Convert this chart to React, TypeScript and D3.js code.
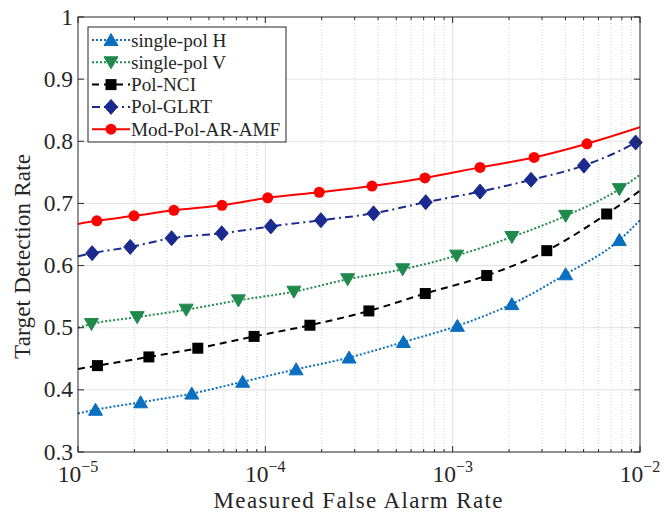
import * as d3 from "d3";

// measured false alarm rate (marker positions) and detection rate per detector
const hPfa = [1.24e-5, 2.16e-5, 4.05e-5, 7.57e-5, 1.46e-4, 2.8e-4, 5.46e-4, 1.06e-3, 2.07e-3, 4.01e-3, 7.76e-3];
const hPd = [0.368, 0.38, 0.394, 0.413, 0.433, 0.452, 0.477, 0.503, 0.538, 0.586, 0.641];
const hEnds = [0.362, 0.673];

const vPfa = [1.18e-5, 2.07e-5, 3.78e-5, 7.18e-5, 1.42e-4, 2.75e-4, 5.41e-4, 1.05e-3, 2.07e-3, 4.01e-3, 7.76e-3];
const vPd = [0.506, 0.517, 0.529, 0.544, 0.558, 0.578, 0.594, 0.616, 0.646, 0.68, 0.723];
const vEnds = [0.5, 0.746];

const nciPfa = [1.27e-5, 2.39e-5, 4.36e-5, 8.71e-5, 1.73e-4, 3.57e-4, 7.14e-4, 1.52e-3, 3.18e-3, 6.64e-3];
const nciPd = [0.439, 0.453, 0.467, 0.486, 0.504, 0.527, 0.555, 0.584, 0.624, 0.683];
const nciEnds = [0.4335, 0.7205];

const glrtPfa = [1.19e-5, 1.9e-5, 3.16e-5, 5.85e-5, 1.07e-4, 1.98e-4, 3.78e-4, 7.18e-4, 1.4e-3, 2.62e-3, 5.02e-3, 9.48e-3];
const glrtPd = [0.62, 0.63, 0.644, 0.652, 0.663, 0.673, 0.684, 0.702, 0.719, 0.738, 0.761, 0.798];
const glrtEnds = [0.615, 0.802];

const amfPfa = [1.26e-5, 1.99e-5, 3.25e-5, 5.87e-5, 1.03e-4, 1.94e-4, 3.71e-4, 7.11e-4, 1.4e-3, 2.72e-3, 5.21e-3];
const amfPd = [0.672, 0.68, 0.689, 0.697, 0.709, 0.718, 0.728, 0.741, 0.758, 0.774, 0.796];
const amfEnds = [0.667, 0.8225];

const xTicks = [1e-5, 1e-4, 1e-3, 1e-2];
const xTickExp = ["\u22125", "\u22124", "\u22123", "\u22122"];
const yTicks = [0.3, 0.4, 0.5, 0.6, 0.7, 0.8, 0.9, 1];
const yTickLabels = ["0.3", "0.4", "0.5", "0.6", "0.7", "0.8", "0.9", "1"];

const W = 672;
const H = 513;
const MARGIN = { top: 17, right: 32, bottom: 61, left: 78 };
const FONT = "'Liberation Serif', 'Times New Roman', serif";
const AXIS = "#262626";

type Series = {
  name: string;
  pfa: number[];
  pd: number[];
  ends: number[];
  color: string;
  dash: string;
  marker: "up" | "down" | "square" | "diamond" | "circle";
};

const series: Series[] = [
  { name: "single-pol H", pfa: hPfa, pd: hPd, ends: hEnds, color: "#0b6fc0", dash: "2,2", marker: "up" },
  { name: "single-pol V", pfa: vPfa, pd: vPd, ends: vEnds, color: "#1f8a4c", dash: "2,2", marker: "down" },
  { name: "Pol-NCI", pfa: nciPfa, pd: nciPd, ends: nciEnds, color: "#000000", dash: "7,5", marker: "square" },
  { name: "Pol-GLRT", pfa: glrtPfa, pd: glrtPd, ends: glrtEnds, color: "#1a2a8e", dash: "8,4,2,4", marker: "diamond" },
  { name: "Mod-Pol-AR-AMF", pfa: amfPfa, pd: amfPd, ends: amfEnds, color: "#ff0000", dash: "", marker: "circle" },
];

function Marker({ kind, x, y, color }: { kind: Series["marker"]; x: number; y: number; color: string }) {
  if (kind === "circle") return <circle cx={x} cy={y} r={5.5} fill={color} />;
  if (kind === "square") return <rect x={x - 5.5} y={y - 5.5} width={11} height={11} fill={color} />;
  let pts: number[][] = [];
  if (kind === "diamond") pts = [[0, -7.5], [6.5, 0], [0, 7.5], [-6.5, 0]];
  if (kind === "up") pts = [[0, -6.5], [7, 5.5], [-7, 5.5]];
  if (kind === "down") pts = [[0, 6.5], [7, -5.5], [-7, -5.5]];
  return (
    <polygon
      points={pts.map((p) => `${x + p[0]},${y + p[1]}`).join(" ")}
      fill={color}
      stroke={color}
      strokeWidth={1}
      strokeLinejoin="round"
    />
  );
}

export default function App() {
  const iw = W - MARGIN.left - MARGIN.right;
  const ih = H - MARGIN.top - MARGIN.bottom;
  const x = d3.scaleLog().domain([1e-5, 1e-2]).range([0, iw]);
  const y = d3.scaleLinear().domain([0.3, 1]).range([ih, 0]);

  const minorX: number[] = [];
  for (let e = -5; e < -2; e++) {
    for (let m = 2; m <= 9; m++) minorX.push(m * Math.pow(10, e));
  }

  const line = d3
    .line<number[]>()
    .x((d) => x(d[0]))
    .y((d) => y(d[1]))
    .curve(d3.curveMonotoneX);

  const legendX = 10;
  const legendY = 10;
  const rowH = 22.3;

  return (
    <svg width={W} height={H} style={{ position: "absolute", left: 0, top: 0, background: "#fff" }}>
      <g transform={`translate(${MARGIN.left},${MARGIN.top})`}>
        {/* minor grid */}
        {minorX.map((v) => (
          <line key={"mg" + v} x1={x(v)} x2={x(v)} y1={0} y2={ih} stroke="#c8c8c8" strokeWidth={0.8} strokeDasharray="1,2" />
        ))}
        {/* major grid */}
        {xTicks.slice(1, -1).map((v) => (
          <line key={"xg" + v} x1={x(v)} x2={x(v)} y1={0} y2={ih} stroke="#e3e3e3" strokeWidth={1} />
        ))}
        {yTicks.slice(1, -1).map((v) => (
          <line key={"yg" + v} x1={0} x2={iw} y1={y(v)} y2={y(v)} stroke="#e3e3e3" strokeWidth={1} />
        ))}

        {/* series */}
        <defs>
          <clipPath id="plotclip">
            <rect x={0} y={0} width={iw} height={ih} />
          </clipPath>
        </defs>
        <g clipPath="url(#plotclip)">
          {series.map((s) => {
            const pts = [[1e-5, s.ends[0]], ...s.pfa.map((p, i) => [p, s.pd[i]]), [1e-2, s.ends[1]]];
            return (
              <path
                key={s.name}
                d={line(pts) || ""}
                fill="none"
                stroke={s.color}
                strokeWidth={2}
                strokeDasharray={s.dash || undefined}
              />
            );
          })}
        </g>
        {series.map((s) =>
          s.pfa.map((p, i) => <Marker key={s.name + i} kind={s.marker} x={x(p)} y={y(s.pd[i])} color={s.color} />)
        )}

        {/* ticks */}
        {xTicks.map((v) => (
          <g key={"xt" + v}>
            <line x1={x(v)} x2={x(v)} y1={ih} y2={ih - 6} stroke={AXIS} />
            <line x1={x(v)} x2={x(v)} y1={0} y2={6} stroke={AXIS} />
          </g>
        ))}
        {minorX.map((v) => (
          <g key={"xm" + v}>
            <line x1={x(v)} x2={x(v)} y1={ih} y2={ih - 3} stroke={AXIS} />
            <line x1={x(v)} x2={x(v)} y1={0} y2={3} stroke={AXIS} />
          </g>
        ))}
        {yTicks.map((v) => (
          <g key={"yt" + v}>
            <line x1={0} x2={6} y1={y(v)} y2={y(v)} stroke={AXIS} />
            <line x1={iw} x2={iw - 6} y1={y(v)} y2={y(v)} stroke={AXIS} />
          </g>
        ))}
        <rect x={0} y={0} width={iw} height={ih} fill="none" stroke={AXIS} strokeWidth={1} />

        {/* tick labels */}
        {yTicks.map((v, i) => (
          <text key={"yl" + v} x={-5} y={y(v) + 7.5} textAnchor="end" fontFamily={FONT} fontSize={23.5} fill={AXIS}>
            {yTickLabels[i]}
          </text>
        ))}
        {xTicks.map((v, i) => (
          <text key={"xl" + v} x={x(v)} y={ih + 30} textAnchor="middle" fontFamily={FONT} fontSize={23.5} fill={AXIS}>
            10
            <tspan dy={-10} fontSize={16}>
              {xTickExp[i]}
            </tspan>
          </text>
        ))}

        {/* axis titles */}
        <text
          x={iw / 2 - 1}
          y={ih + 56}
          textAnchor="middle"
          fontFamily={FONT}
          fontSize={23}
          fill={AXIS}
          textLength={289}
          lengthAdjust="spacing"
        >
          Measured False Alarm Rate
        </text>
        <text
          transform={`translate(${-48},${ih / 2 + 22}) rotate(-90)`}
          textAnchor="middle"
          fontFamily={FONT}
          fontSize={23}
          fill={AXIS}
          textLength={205}
          lengthAdjust="spacing"
        >
          Target Detection Rate
        </text>

        {/* legend */}
        <g transform={`translate(${legendX},${legendY})`}>
          <rect x={0} y={0} width={198} height={115} fill="#fff" stroke={AXIS} strokeWidth={1} />
          {series.map((s, i) => {
            const cy = 13 + i * rowH;
            return (
              <g key={"lg" + s.name}>
                <line x1={4} x2={42} y1={cy} y2={cy} stroke={s.color} strokeWidth={2} strokeDasharray={s.dash || undefined} />
                <Marker kind={s.marker} x={23} y={cy} color={s.color} />
                <text x={43} y={cy + 6.5} fontFamily={FONT} fontSize={19.2} fill={AXIS}>
                  {s.name}
                </text>
              </g>
            );
          })}
        </g>
      </g>
    </svg>
  );
}
